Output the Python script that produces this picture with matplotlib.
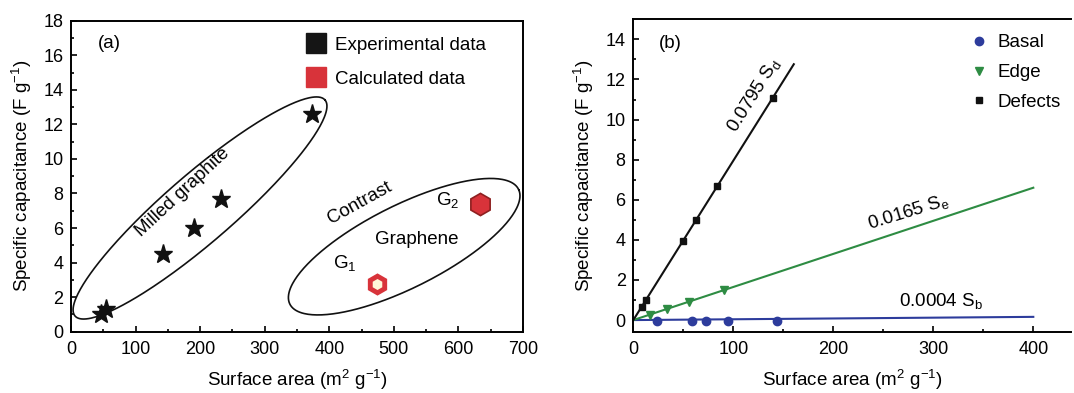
import numpy as np
import matplotlib
matplotlib.use("Agg")
import matplotlib.pyplot as plt
from matplotlib.lines import Line2D

plt.rcParams['font.family'] = ['Liberation Sans', 'DejaVu Sans']
plt.rcParams['mathtext.fontset'] = 'custom'
plt.rcParams['mathtext.rm'] = 'Liberation Sans'
plt.rcParams['mathtext.it'] = 'Liberation Sans:italic'
plt.rcParams['mathtext.default'] = 'regular'

# (a) milled graphite, experimental
exp_area = [47, 54, 142, 191, 233, 374]
exp_cap = [1.02, 1.31, 4.48, 5.98, 7.68, 12.6]
# (a) graphene, calculated
g_names = ['G1', 'G2']
g_area = [474, 634]
g_cap = [2.76, 7.37]

# (b) fitted slopes
slope_basal = 0.0004
slope_edge = 0.0165
slope_defects = 0.0795
basal_x = [23.4, 58.4, 72.7, 94.4, 144]
edge_x = [16.7, 33.4, 56, 90.7]
defects_x = [8.4, 12.7, 49.4, 62.7, 84, 139.4]

W, H = 1074, 393
fig = plt.figure(figsize=(W / 100, H / 100), dpi=100)

ax1 = fig.add_axes([71 / W, (H - 331.7) / H, 452 / W, 311 / H])
ax2 = fig.add_axes([633.3 / W, (H - 331.7) / H, 438 / W, 312.4 / H])

blue = '#2d3c9c'
green = '#2e8c43'
red = '#d8333a'
fs = 13.5
ylab_font = ['Liberation Sans Narrow', 'Liberation Sans', 'DejaVu Sans']

for ax in (ax1, ax2):
    for s in ax.spines.values():
        s.set_linewidth(1.4)
    ax.tick_params(which='both', direction='in', labelsize=13, width=1.2,
                   top=False, right=False)
    ax.tick_params(axis='x', which='both', pad=7)
    ax.tick_params(axis='y', which='both', pad=5.5)
    ax.tick_params(which='major', length=4)
    ax.tick_params(which='minor', length=2)

# ---- (a)
ax1.set_xlim(0, 700)
ax1.set_ylim(0, 18)
ax1.set_xticks(np.arange(0, 701, 100))
ax1.set_xticks(np.arange(50, 700, 100), minor=True)
ax1.set_yticks(np.arange(0, 19, 2))
ax1.set_yticks(np.arange(1, 18, 2), minor=True)

ax1.plot(exp_area, exp_cap, ls='none', marker='*', ms=14, color='#111111')
ax1.plot(g_area[0], g_cap[0], ls='none', marker='h', ms=12, mfc='#fff7d8',
         mec=red, mew=3.5)
ax1.plot(g_area[1], g_cap[1], ls='none', marker='h', ms=16, mfc=red,
         mec='#8e2020', mew=1.2)

t = np.linspace(0, 2 * np.pi, 300)
# ellipse around milled graphite
ax1.plot(199.8 + 193.6 * np.cos(t) + 34.1 * np.sin(t),
         7.16 + 6.25 * np.cos(t) - 1.50 * np.sin(t), color='#111111', lw=1.2)
# ellipse around graphene
ax1.plot(516.0 + 177.6 * np.cos(t) + 24.8 * np.sin(t),
         4.92 + 3.28 * np.cos(t) - 2.20 * np.sin(t), color='#111111', lw=1.2)

ax1.text(60, 16.7, '(a)', fontsize=fs, ha='center', va='center')
ax1.text(173, 8.04, 'Milled graphite', fontsize=fs, rotation=43,
         ha='center', va='center')
ax1.text(447, 7.43, 'Contrast', fontsize=fs, rotation=29,
         ha='center', va='center')
ax1.text(535, 5.31, 'Graphene', fontsize=fs, ha='center', va='center')
ax1.text(424, 3.96, 'G$_1$', fontsize=fs, ha='center', va='center')
ax1.text(584, 7.62, 'G$_2$', fontsize=fs, ha='center', va='center')

h1 = [Line2D([], [], ls='none', marker='s', ms=15, color='#151515'),
      Line2D([], [], ls='none', marker='s', ms=15, color=red)]
ax1.legend(h1, ['Experimental data', 'Calculated data'], loc='upper left',
           bbox_to_anchor=(0.518, 0.948), frameon=False, fontsize=fs,
           borderpad=0, borderaxespad=0, handlelength=1.16,
           handletextpad=0.43, labelspacing=0.88)

ax1.set_xlabel('Surface area (m$^2$ g$^{-1}$)', fontsize=fs, labelpad=7)
ax1.set_ylabel('Specific capacitance (F g$^{-1}$)', fontsize=fs,
               family=ylab_font, labelpad=7)

# ---- (b)
ax2.set_xlim(0, 438)
ax2.set_ylim(-0.58, 15.0)
ax2.set_xticks(np.arange(0, 401, 100))
ax2.set_xticks(np.arange(50, 401, 100), minor=True)
ax2.set_yticks(np.arange(0, 15, 2))
ax2.set_yticks(np.arange(1, 15, 2), minor=True)
ax2.spines['right'].set_visible(False)

xb = np.array([0, 400])
xd = np.array([0, 160.5])
ax2.plot(xb, slope_basal * xb, color=blue, lw=1.5)
ax2.plot(xb, slope_edge * xb, color=green, lw=1.5)
ax2.plot(xd, slope_defects * xd, color='#111111', lw=1.5)

ax2.plot(basal_x, [-0.05] * len(basal_x), ls='none', marker='o', ms=6,
         color=blue, label='Basal')
ax2.plot(edge_x, slope_edge * np.array(edge_x), ls='none', marker='v', ms=6,
         color=green, label='Edge')
ax2.plot(defects_x, slope_defects * np.array(defects_x), ls='none',
         marker='s', ms=5, color='#111111', label='Defects')

ax2.text(36.7, 13.8, '(b)', fontsize=fs, ha='center', va='center')
ax2.text(120, 11.2, '0.0795 S$_d$', fontsize=fs, rotation=58,
         ha='center', va='center')
ax2.text(275, 5.4, '0.0165 S$_e$', fontsize=fs, rotation=17,
         ha='center', va='center')
ax2.text(308, 0.96, '0.0004 S$_b$', fontsize=fs, ha='center', va='center')

ax2.legend(loc='upper left', bbox_to_anchor=(0.771, 0.952), frameon=False,
           fontsize=fs, borderpad=0, borderaxespad=0, handlelength=0.89,
           handletextpad=0.55, labelspacing=0.67)

ax2.set_xlabel('Surface area (m$^2$ g$^{-1}$)', fontsize=fs, labelpad=7)
ax2.set_ylabel('Specific capacitance (F g$^{-1}$)', fontsize=fs,
               family=ylab_font, labelpad=7)

fig.savefig('out.png', dpi=100)
